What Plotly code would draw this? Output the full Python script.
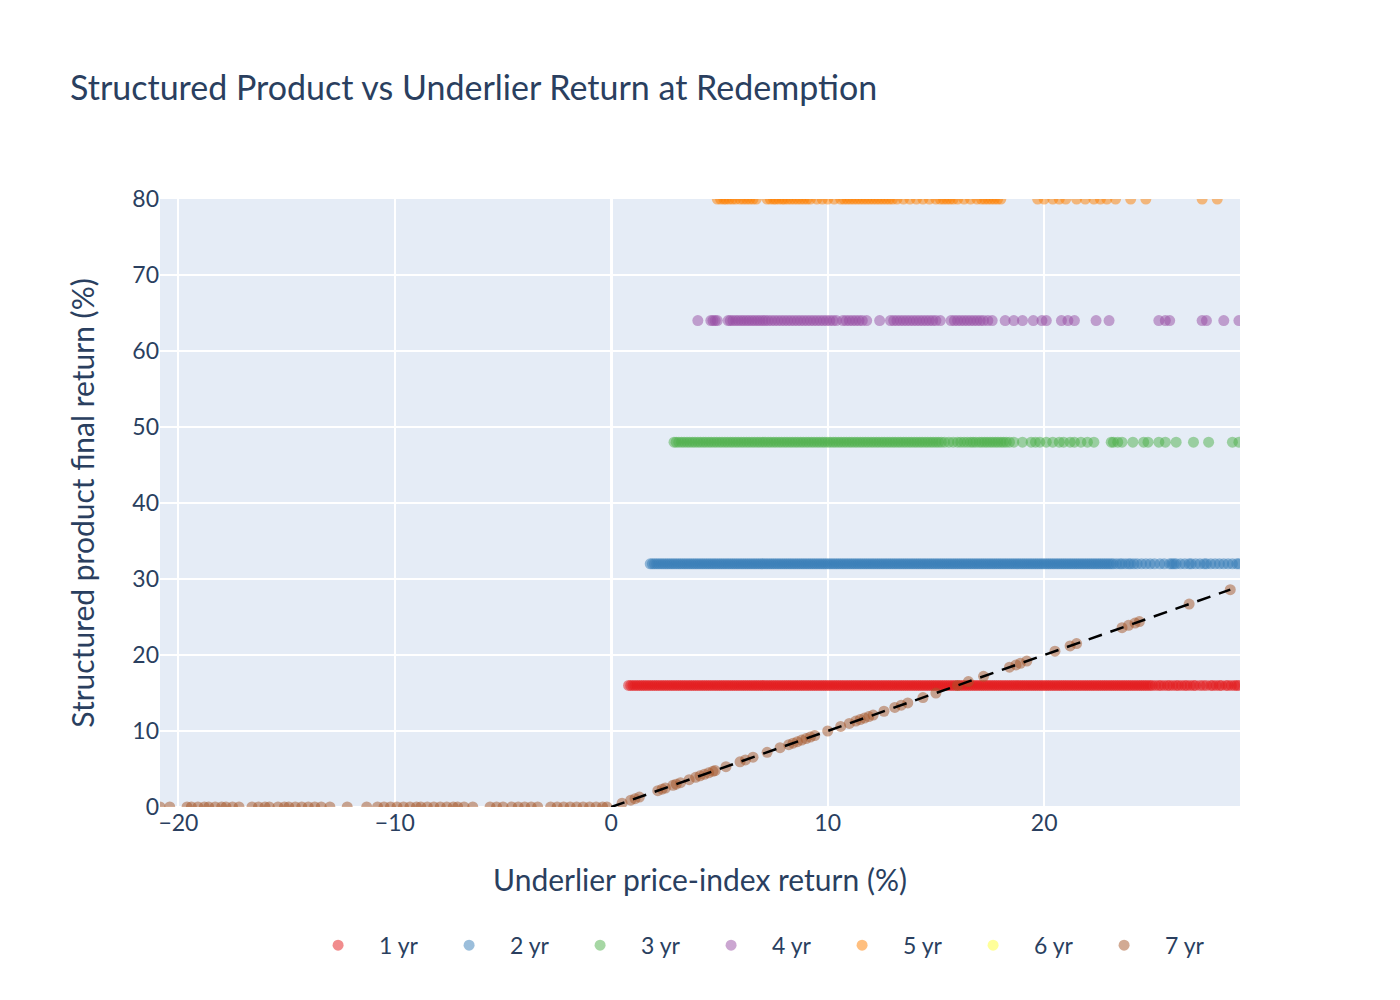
import plotly.graph_objects as go

# underlier return (%) of each simulated path, grouped by the year it redeemed
x_1yr = [
    0.8, 0.9,
    1.0, 1.1, 1.2, 1.3, 1.4, 1.5, 1.6, 1.7, 1.8, 1.9, 2.0, 2.1, 2.2, 2.3, 2.4, 2.5, 2.6, 2.7, 2.8, 2.9,
    3.0, 3.1, 3.2, 3.3, 3.4, 3.5, 3.6, 3.7, 3.8, 3.9, 4.0, 4.1, 4.2, 4.3, 4.4, 4.5, 4.6, 4.7, 4.8, 4.9,
    5.0, 5.1, 5.2, 5.3, 5.4, 5.5, 5.6, 5.7, 5.8, 5.9, 6.0, 6.1, 6.2, 6.3, 6.4, 6.5, 6.6, 6.7, 6.8, 6.9,
    7.0, 7.1, 7.2, 7.3, 7.4, 7.5, 7.6, 7.7, 7.8, 7.9, 8.0, 8.1, 8.2, 8.3, 8.4, 8.5, 8.6, 8.7, 8.8, 8.9,
    9.0, 9.1, 9.2, 9.3, 9.4, 9.5, 9.6, 9.7, 9.8, 9.9, 10.0, 10.1, 10.2, 10.3, 10.4, 10.5, 10.6, 10.7, 10.8, 10.9,
    11.0, 11.1, 11.2, 11.3, 11.4, 11.5, 11.6, 11.7, 11.8, 11.9, 12.0, 12.1, 12.2, 12.3, 12.4, 12.5, 12.6, 12.7, 12.8, 12.9,
    13.0, 13.1, 13.2, 13.3, 13.4, 13.5, 13.6, 13.7, 13.8, 13.9, 14.0, 14.1, 14.2, 14.3, 14.4, 14.5, 14.6, 14.7, 14.8, 14.9,
    15.0, 15.1, 15.2, 15.3, 15.4, 15.5, 15.6, 15.7, 15.8, 15.9, 16.0, 16.1, 16.2, 16.3, 16.4, 16.5, 16.6, 16.7, 16.8, 16.9,
    17.0, 17.1, 17.2, 17.3, 17.4, 17.5, 17.6, 17.7, 17.8, 17.9, 18.0, 18.1, 18.2, 18.3, 18.4, 18.5, 18.6, 18.7, 18.8, 18.9,
    19.0, 19.1, 19.2, 19.3, 19.4, 19.5, 19.6, 19.7, 19.8, 19.9, 20.0, 20.1, 20.2, 20.3, 20.4, 20.5, 20.6, 20.7, 20.8, 20.9,
    21.0, 21.1, 21.2, 21.3, 21.4, 21.5, 21.6, 21.7, 21.8, 21.9, 22.0, 22.1, 22.2, 22.3, 22.4, 22.5, 22.6, 22.7, 22.8, 22.9,
    23.0, 23.1, 23.2, 23.3, 23.4, 23.5, 23.6, 23.7, 23.8, 23.9, 24.0, 24.1, 24.2, 24.3, 24.4, 24.5, 24.6, 24.7, 24.8, 24.9,
    25.0, 25.15, 25.3, 25.4, 25.55, 25.7, 25.8, 25.95, 26.1, 26.2, 26.35, 26.5, 26.6, 26.75, 26.9, 27.0,
    27.2, 27.35, 27.5, 27.7, 27.8, 27.95, 28.1, 28.2, 28.4, 28.5, 28.65, 28.8, 28.9, 29.0,
]
x_2yr = [
    1.8, 1.9, 2.0, 2.1, 2.2, 2.3, 2.4, 2.5, 2.6, 2.7, 2.8, 2.9,
    3.0, 3.1, 3.2, 3.3, 3.4, 3.5, 3.6, 3.7, 3.8, 3.9, 4.0, 4.1, 4.2, 4.3, 4.4, 4.5, 4.6, 4.7, 4.8, 4.9,
    5.0, 5.1, 5.2, 5.3, 5.4, 5.5, 5.6, 5.7, 5.8, 5.9, 6.0, 6.1, 6.2, 6.3, 6.4, 6.5, 6.6, 6.7, 6.8, 6.9,
    7.0, 7.1, 7.2, 7.3, 7.4, 7.5, 7.6, 7.7, 7.8, 7.9, 8.0, 8.1, 8.2, 8.3, 8.4, 8.5, 8.6, 8.7, 8.8, 8.9,
    9.0, 9.1, 9.2, 9.3, 9.4, 9.5, 9.6, 9.7, 9.8, 9.9, 10.0, 10.1, 10.2, 10.3, 10.4, 10.5, 10.6, 10.7, 10.8, 10.9,
    11.0, 11.1, 11.2, 11.3, 11.4, 11.5, 11.6, 11.7, 11.8, 11.9, 12.0, 12.1, 12.2, 12.3, 12.4, 12.5, 12.6, 12.7, 12.8, 12.9,
    13.0, 13.1, 13.2, 13.3, 13.4, 13.5, 13.6, 13.7, 13.8, 13.9, 14.0, 14.1, 14.2, 14.3, 14.4, 14.5, 14.6, 14.7, 14.8, 14.9,
    15.0, 15.1, 15.2, 15.3, 15.4, 15.5, 15.6, 15.7, 15.8, 15.9, 16.0, 16.1, 16.2, 16.3, 16.4, 16.5, 16.6, 16.7, 16.8, 16.9,
    17.0, 17.1, 17.2, 17.3, 17.4, 17.5, 17.6, 17.7, 17.8, 17.9, 18.0, 18.1, 18.2, 18.3, 18.4, 18.5, 18.6, 18.7, 18.8, 18.9,
    19.0, 19.1, 19.2, 19.3, 19.4, 19.5, 19.6, 19.7, 19.8, 19.9, 20.0, 20.1, 20.2, 20.3, 20.4, 20.5, 20.6, 20.7, 20.8, 20.9,
    21.0, 21.1, 21.2, 21.3, 21.4, 21.5, 21.6, 21.7, 21.8, 21.9, 22.0, 22.1, 22.2, 22.3, 22.4, 22.5, 22.6, 22.7, 22.8, 22.9,
    23.0, 23.1, 23.2, 23.35, 23.5, 23.6, 23.75, 23.9, 24.0, 24.15, 24.3,
    24.5, 24.7, 24.9, 25.1, 25.35, 25.55, 25.8, 25.9, 26.0, 26.1, 26.3, 26.5, 26.7, 26.8, 27.0,
    27.2, 27.4, 27.5, 27.7, 27.9, 28.1, 28.3, 28.5, 28.7, 28.9, 29.0,
]
x_3yr = [
    2.9, 3.0, 3.12, 3.25, 3.37, 3.5, 3.62, 3.75, 3.87, 4.0, 4.12, 4.25, 4.37, 4.5, 4.62, 4.75, 4.87,
    5.0, 5.12, 5.25, 5.37, 5.5, 5.62, 5.75, 5.87, 6.0, 6.12, 6.25, 6.37, 6.5, 6.62, 6.75, 6.87,
    7.0, 7.12, 7.25, 7.37, 7.5, 7.62, 7.75, 7.87, 8.0, 8.12, 8.25, 8.37, 8.5, 8.62, 8.75, 8.87,
    9.0, 9.12, 9.25, 9.37, 9.5, 9.62, 9.75, 9.87, 10.0, 10.12, 10.25, 10.37, 10.5, 10.62, 10.75, 10.87,
    11.0, 11.12, 11.25, 11.37, 11.5, 11.62, 11.75, 11.87, 12.0, 12.12, 12.25, 12.37, 12.5, 12.62, 12.75, 12.87,
    13.0, 13.12, 13.25, 13.37, 13.5, 13.62, 13.75, 13.87, 14.0, 14.12, 14.25, 14.37, 14.5, 14.62, 14.75, 14.87,
    15.0, 15.12, 15.25, 15.4, 15.6, 15.8, 16.0, 16.15, 16.3, 16.45, 16.6, 16.72, 16.85,
    17.0, 17.12, 17.25, 17.37, 17.5, 17.62, 17.75, 17.87, 18.0, 18.12, 18.25, 18.4, 18.6,
    19.0, 19.4, 19.6, 19.8, 20.1, 20.4, 20.7, 20.9, 21.2, 21.4, 21.7, 22.0, 22.3,
    23.1, 23.2, 23.4, 23.6, 24.1, 24.6, 24.8, 25.3, 25.6, 26.1, 26.9, 27.6, 28.7, 29.0,
]
x_4yr = [
    4.0, 4.6, 4.7, 4.8, 4.9,
    5.4, 5.5, 5.62, 5.75, 5.87, 6.0, 6.12, 6.25, 6.37, 6.5, 6.62, 6.75, 6.87, 7.0, 7.12, 7.25,
    7.4, 7.55, 7.7, 7.85, 8.0, 8.15, 8.3, 8.45, 8.6, 8.75, 8.9, 9.05, 9.2, 9.35, 9.5, 9.65,
    9.8, 9.95, 10.1, 10.25, 10.4,
    10.7, 10.85, 11.0, 11.15, 11.3, 11.45, 11.6, 11.8, 12.4,
    12.9, 13.05, 13.2, 13.35, 13.5, 13.65, 13.8, 13.95, 14.1, 14.25, 14.4, 14.55, 14.7, 14.85,
    15.0, 15.2, 15.7, 15.85, 16.0, 16.15, 16.3, 16.45, 16.6, 16.75, 16.9, 17.05, 17.2, 17.4, 17.6,
    18.2, 18.6, 19.0, 19.5, 19.9, 20.1, 20.8, 21.1, 21.4, 22.4, 23.0,
    25.3, 25.6, 25.8, 27.3, 27.5, 28.3, 29.0,
]
x_5yr = [
    4.9, 5.05, 5.2, 5.3, 5.45, 5.6, 5.75, 5.95, 6.1, 6.25, 6.4, 6.55, 6.7,
    7.2, 7.35, 7.5, 7.6, 7.75, 7.9, 8.0, 8.15, 8.3, 8.45, 8.6, 8.75, 8.9, 9.05, 9.2,
    9.5, 9.75, 10.0, 10.3, 10.6, 10.75, 10.9, 11.05, 11.2, 11.35, 11.5, 11.65, 11.8, 11.95, 12.1,
    12.25, 12.4, 12.55, 12.7, 12.85, 13.0, 13.2, 13.5, 13.8, 14.1, 14.4, 14.7, 15.0, 15.2,
    15.35, 15.5, 15.65, 15.8, 16.0, 16.3, 16.6, 16.9, 17.1, 17.25, 17.4, 17.55, 17.7, 17.85, 18.0,
    19.7, 20.0, 20.4, 20.7, 21.0, 21.5, 21.9, 22.3, 22.6, 22.9, 23.3, 24.0, 24.7, 27.3, 28.0,
]
x_6yr = [None]  # no 6 yr redemptions inside the plotted window
# 7 yr: capital protected, so losses pay 0 and gains pay the underlier return
x_7yr_loss = [
    -20.85, -20.4, -19.6, -19.4, -19.1, -18.8, -18.6, -18.3, -18.0, -17.8, -17.5, -17.2,
    -16.6, -16.3, -16.0, -15.8, -15.4, -15.1, -14.9, -14.6, -14.3, -14.0, -13.7, -13.4,
    -13.0, -12.2, -11.3, -10.8, -10.5, -10.2, -9.9, -9.6, -9.3, -9.0, -8.8, -8.5, -8.2,
    -7.9, -7.6, -7.3, -7.1, -6.8, -6.4, -5.6, -5.3, -5.0, -4.6, -4.3, -4.0, -3.7, -3.4,
    -2.8, -2.5, -2.2, -1.9, -1.6, -1.3, -1.0, -0.7, -0.4, -0.2,
]
x_7yr_gain = [
    0.5, 0.9, 1.1, 1.3, 2.15, 2.35, 2.5, 2.85, 3.0, 3.2, 3.6, 3.9, 4.1, 4.3, 4.5, 4.7,
    4.8, 5.3, 5.95, 6.2, 6.55, 7.2, 7.8, 8.2, 8.4, 8.6, 8.8, 9.0, 9.2, 9.4, 10.0, 10.6,
    11.0, 11.3, 11.5, 11.7, 11.9, 12.1, 12.6, 13.1, 13.4, 13.7, 14.4, 15.0, 16.0, 16.5,
    17.2, 18.4, 18.7, 18.9, 19.2, 20.5, 21.2, 21.5, 23.6, 23.9, 24.2, 24.4, 26.7, 28.6,
]

# fixed payoff (%) per autocall year
coupons = [16, 32, 48, 64, 80, 96]
labels = ["1 yr", "2 yr", "3 yr", "4 yr", "5 yr", "6 yr", "7 yr"]
colors = ["#e41a1c", "#377eb8", "#4daf4a", "#984ea3", "#ff7f00", "#ffff33", "#a65628"]

diag_x = [0, 28.6]

fig = go.Figure()

groups = [x_1yr, x_2yr, x_3yr, x_4yr, x_5yr, x_6yr]
for xs, c, name, col in zip(groups, coupons, labels, colors):
    fig.add_trace(go.Scatter(
        x=xs, y=[c] * len(xs), mode="markers", name=name,
        marker=dict(color=col, size=11, opacity=0.5),
    ))

x7 = x_7yr_loss + x_7yr_gain
y7 = [0.0] * len(x_7yr_loss) + x_7yr_gain
fig.add_trace(go.Scatter(
    x=x7, y=y7, mode="markers", name=labels[6],
    marker=dict(color=colors[6], size=11, opacity=0.5),
))

fig.add_trace(go.Scatter(
    x=diag_x, y=diag_x, mode="lines", showlegend=False, hoverinfo="skip",
    line=dict(color="black", width=2.5, dash="14px,9px"),
))

font = "Lato, sans-serif"
fig.update_layout(
    width=1400, height=1000,
    font=dict(family=font, size=23, color="#2a3f5f"),
    title=dict(text="Structured Product vs Underlier Return at Redemption",
               x=0.0443, y=0.92, yanchor="middle", font=dict(size=34)),
    margin=dict(l=152, r=168, t=191, b=201),
    plot_bgcolor="#E5ECF6",
    legend=dict(orientation="h", x=0.976, xanchor="right", y=-0.192, yanchor="top",
                font=dict(size=23), itemwidth=72, entrywidth=44),
)
fig.update_xaxes(title=dict(text="Underlier price-index return (%)", font=dict(size=30), standoff=34),
                 range=[-20.85, 29.05], dtick=10, gridcolor="white", gridwidth=2,
                 zerolinecolor="white", zerolinewidth=3, tickfont=dict(size=23))
fig.update_yaxes(title=dict(text="Structured product final return (%)", font=dict(size=30), standoff=28),
                 range=[0, 80], dtick=10, gridcolor="white", gridwidth=2,
                 zerolinecolor="white", zerolinewidth=3, tickfont=dict(size=23))

fig.write_html("out.html")
